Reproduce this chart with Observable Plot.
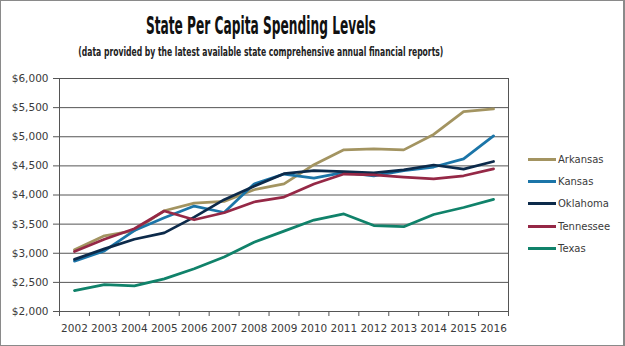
<!DOCTYPE html>
<html>
<head>
<meta charset="utf-8">
<script src="https://cdn.jsdelivr.net/npm/d3@7"></script>
<script src="https://cdn.jsdelivr.net/npm/@observablehq/plot@0.6"></script>
<style>
  body { margin: 0; background: #fff; }
  #wrap { position: relative; width: 625px; height: 346px; background: #fff; overflow: hidden; }
  #frame { position: absolute; left: 0; top: 0; width: 625px; height: 346px; box-sizing: border-box; border: 1px solid #8a8a8a; border-right-width: 2px; pointer-events: none; }
  .ttl { position: absolute; left: 0; width: 522px; text-align: center; white-space: nowrap; color: #111;
         font-family: "Liberation Sans Narrow", "DejaVu Sans Condensed", "Liberation Sans", sans-serif; }
  .ttl span { display: inline-block; transform-origin: center; }
  #title { top: 13px; font-size: 25px; line-height: 25px; font-weight: bold; }
  #subtitle { top: 46px; font-size: 12px; line-height: 12px; font-weight: bold; color: #222; }
  #chart { position: absolute; left: 0; top: 60px; }
  .leg { position: absolute; left: 528px; height: 14px; display: flex; align-items: center;
         font-family: "DejaVu Sans", sans-serif; font-size: 10px; color: #3a3a3a; }
  .leg i { display: inline-block; width: 28px; height: 3px; margin-right: 2px; }
</style>
</head>
<body>
<div id="wrap">
  <div id="title" class="ttl"><span>State Per Capita Spending Levels</span></div>
  <div id="subtitle" class="ttl"><span>(data provided by the latest available state comprehensive annual financial reports)</span></div>
  <div id="chart"></div>
  <div id="legend"></div>
  <div id="frame"></div>
</div>
<script>
const years = [2002, 2003, 2004, 2005, 2006, 2007, 2008, 2009, 2010, 2011, 2012, 2013, 2014, 2015, 2016];
const states = ["Arkansas", "Kansas", "Oklahoma", "Tennessee", "Texas"];
const colors = ["#A39461", "#1B75A8", "#0C2A4A", "#952846", "#10826A"];
const arkansas  = [3060, 3300, 3390, 3730, 3860, 3890, 4090, 4190, 4520, 4775, 4790, 4775, 5040, 5430, 5480];
const kansas    = [2865, 3040, 3390, 3610, 3810, 3700, 4190, 4360, 4290, 4390, 4330, 4420, 4480, 4620, 5015];
const oklahoma  = [2895, 3075, 3240, 3350, 3620, 3920, 4150, 4365, 4420, 4400, 4380, 4430, 4515, 4445, 4575];
const tennessee = [3030, 3240, 3420, 3725, 3575, 3695, 3880, 3965, 4190, 4360, 4345, 4305, 4275, 4330, 4450];
const texas     = [2360, 2460, 2440, 2560, 2735, 2935, 3190, 3380, 3570, 3675, 3475, 3455, 3665, 3785, 3925];
const yTicks = [2000, 2500, 3000, 3500, 4000, 4500, 5000, 5500, 6000];

const series = [arkansas, kansas, oklahoma, tennessee, texas];
const data = [];
states.forEach((s, i) => years.forEach((y, j) => data.push({state: s, year: y, value: series[i][j]})));
const boundaries = [...years.map(y => y - 0.5), years[years.length - 1] + 0.5];

const chart = Plot.plot({
  width: 625,
  height: 286,
  marginTop: 18,
  marginBottom: 35,
  marginLeft: 59,
  marginRight: 117,
  style: {fontFamily: "DejaVu Sans, sans-serif", fontSize: "10.5px", color: "#3a3a3a", background: "transparent", overflow: "visible"},
  x: {domain: [years[0] - 0.5, years[years.length - 1] + 0.5], label: null},
  y: {domain: [yTicks[0], yTicks[yTicks.length - 1]], label: null},
  color: {domain: states, range: colors},
  marks: [
    Plot.gridY(yTicks, {stroke: "#555", strokeOpacity: 1}),
    Plot.frame({stroke: "#555"}),
    Plot.axisY(yTicks, {tickSize: 6, tickPadding: 5, tickFormat: d3.format("$,"), stroke: "#555", label: null}),
    Plot.axisX(years, {tickSize: 0, tickPadding: 13, tickFormat: d => String(d), label: null}),
    Plot.axisX(boundaries, {tickSize: 5, tickFormat: () => "", stroke: "#555", label: null}),
    Plot.line(data, {x: "year", y: "value", stroke: "state", z: "state", strokeWidth: 2.75})
  ]
});
document.getElementById("chart").appendChild(chart);

const legend = document.getElementById("legend");
states.forEach((s, i) => {
  const d = document.createElement("div");
  d.className = "leg";
  d.style.top = (159.3 + i * 22.25 - 7) + "px";
  d.innerHTML = `<i style="background:${colors[i]}"></i>${s}`;
  legend.appendChild(d);
});

function fit(id, target) {
  const sp = document.querySelector("#" + id + " span");
  const w = sp.getBoundingClientRect().width;
  sp.style.transform = `scaleX(${target / w})`;
}
fit("title", 230);
fit("subtitle", 365);
</script>
</body>
</html>
